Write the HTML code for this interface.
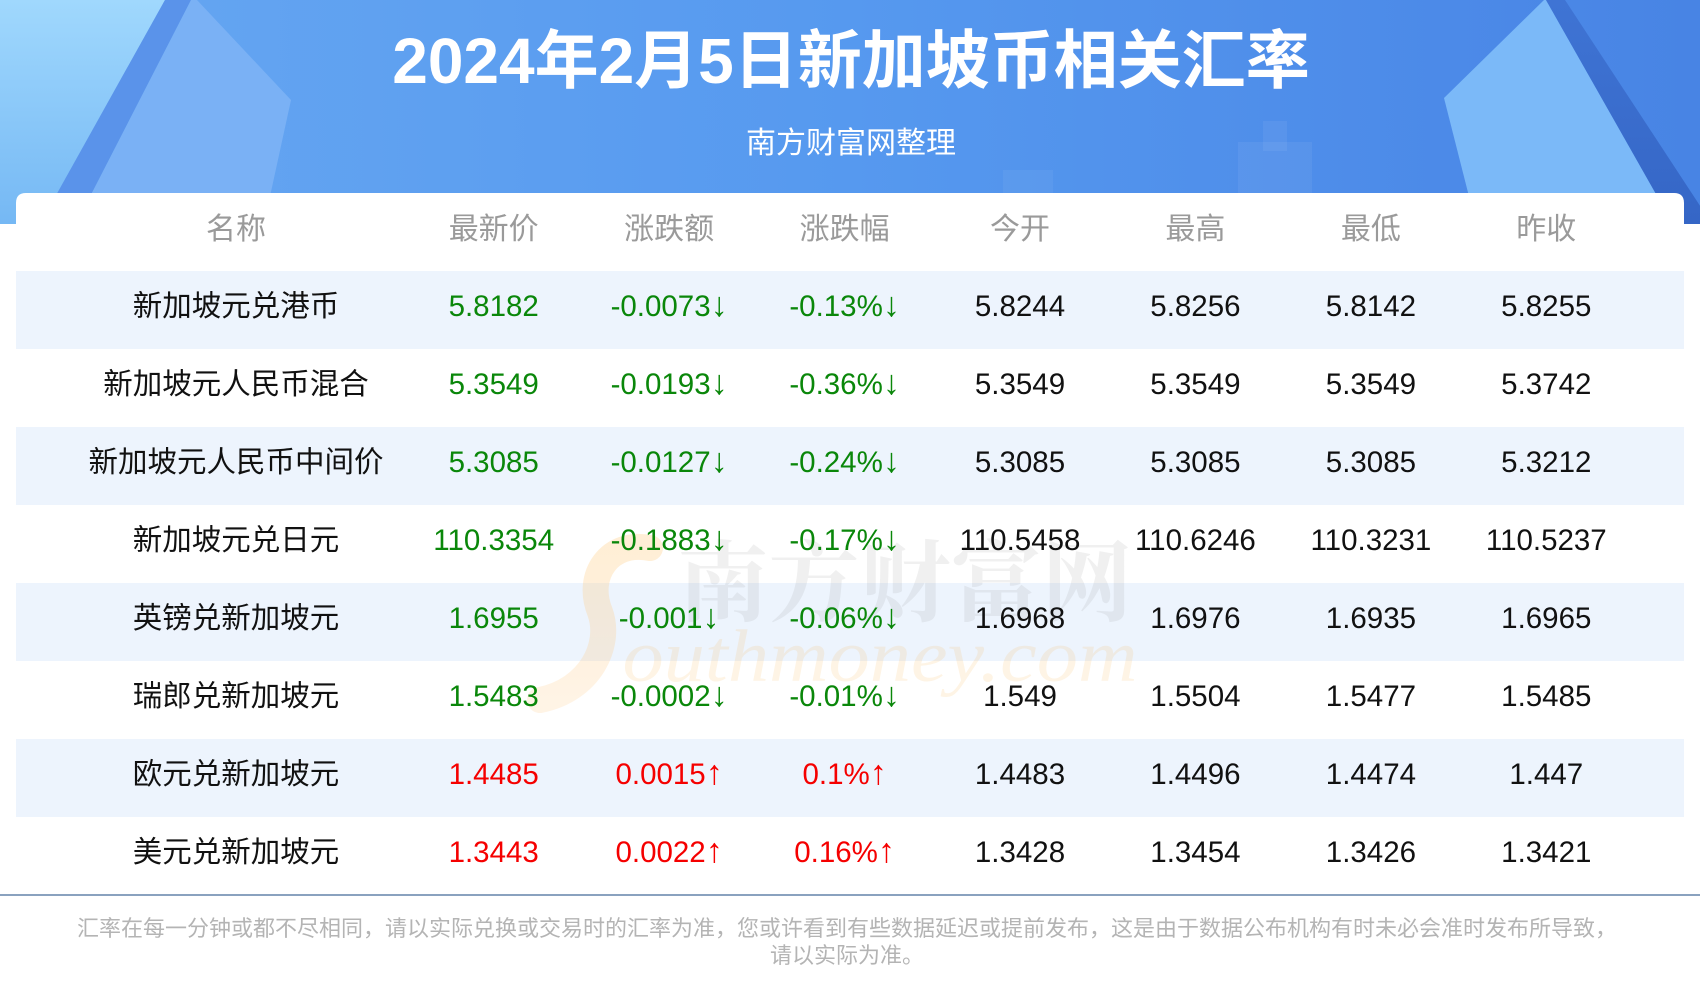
<!DOCTYPE html>
<html>
<head>
<meta charset="utf-8">
<style>
html,body{margin:0;padding:0;background:#fff;}
body{width:1700px;height:1000px;overflow:hidden;}
svg{display:block;}
.t{font-family:"Liberation Sans","Noto Sans CJK SC",sans-serif;}
.d{font-size:29.5px;text-anchor:middle;}
.h{font-size:30px;fill:#9a9a9a;text-anchor:middle;}
.g{fill:#0a870a;}
.r{fill:#f50000;}
.k{fill:#111;}
.a{font-size:34px;}
</style>
</head>
<body>
<svg width="1700" height="1000" viewBox="0 0 1700 1000" xmlns="http://www.w3.org/2000/svg">
<defs>
<linearGradient id="bg" x1="0" y1="0" x2="1" y2="0">
<stop offset="0" stop-color="#7cbcf5"/>
<stop offset="0.12" stop-color="#63a4f1"/>
<stop offset="0.5" stop-color="#5699ef"/>
<stop offset="0.85" stop-color="#4c8ae8"/>
<stop offset="1" stop-color="#4884e4"/>
</linearGradient>
<linearGradient id="lt" x1="0" y1="0" x2="0" y2="1">
<stop offset="0" stop-color="#a0d8fd"/>
<stop offset="1" stop-color="#75b8f4"/>
</linearGradient>
<linearGradient id="ds" x1="0" y1="0" x2="0" y2="1">
<stop offset="0" stop-color="#3f74d4"/>
<stop offset="1" stop-color="#3566c6"/>
</linearGradient>
<linearGradient id="sw" x1="0" y1="0" x2="0" y2="1">
<stop offset="0" stop-color="#ffd08a" stop-opacity="0.35"/>
<stop offset="1" stop-color="#ffc070" stop-opacity="0.18"/>
</linearGradient>
</defs>

<rect x="0" y="0" width="1700" height="222" fill="url(#bg)"/>
<polygon points="0,0 165,0 40,224 0,224" fill="url(#lt)"/>
<polygon points="165,0 191,0 76,224 40,224" fill="#5a93ea"/>
<polygon points="191,0 197,0 291,100 264,224 76,224" fill="#7ab1f5"/>
<polygon points="1544,0 1444,98 1476,224 1673,224 1546,0" fill="#7bb9f8"/>
<polygon points="1546,0 1565,0 1712,224 1673,224" fill="url(#ds)"/>
<rect x="1238" y="142" width="74" height="60" fill="#ffffff" fill-opacity="0.06"/>
<rect x="1263" y="121" width="24" height="30" fill="#ffffff" fill-opacity="0.06"/>
<rect x="1003" y="170" width="50" height="40" fill="#ffffff" fill-opacity="0.05"/>

<text class="t" x="851" y="83" font-size="64" font-weight="bold" fill="#ffffff" text-anchor="middle">2024年2月5日新加坡币相关汇率</text>
<text class="t" x="851" y="153" font-size="30" fill="#ffffff" text-anchor="middle">南方财富网整理</text>

<path d="M16,203 Q16,193 26,193 L1674,193 Q1684,193 1684,203 L1684,895 L16,895 Z" fill="#ffffff"/>

<rect x="16" y="271" width="1668" height="78" fill="#edf4fd"/>
<rect x="16" y="427" width="1668" height="78" fill="#edf4fd"/>
<rect x="16" y="583" width="1668" height="78" fill="#edf4fd"/>
<rect x="16" y="739" width="1668" height="78" fill="#edf4fd"/>

<path d="M650,548 C610,540 585,575 600,612 C612,645 590,690 540,700" fill="none" stroke="url(#sw)" stroke-width="26" stroke-linecap="round"/>
<text x="905" y="614" font-family="Noto Serif CJK SC, serif" font-weight="bold" font-size="88" fill="#8a8a8a" fill-opacity="0.13" text-anchor="middle" textLength="455" lengthAdjust="spacingAndGlyphs">南方财富网</text>
<text x="880" y="681" font-family="Liberation Serif, serif" font-style="italic" font-size="74" fill="#f5b04a" fill-opacity="0.14" text-anchor="middle" textLength="515" lengthAdjust="spacingAndGlyphs">outhmoney.com</text>

<g class="t h">
<text x="236" y="239">名称</text>
<text x="493.7" y="239">最新价</text>
<text x="669.1" y="239">涨跌额</text>
<text x="844.6" y="239">涨跌幅</text>
<text x="1020" y="239">今开</text>
<text x="1195.4" y="239">最高</text>
<text x="1370.9" y="239">最低</text>
<text x="1546.3" y="239">昨收</text>
</g>

<g class="t d">
<text class="k" x="236" y="316">新加坡元兑港币</text>
<text class="g" x="493.7" y="316">5.8182</text>
<text class="g" x="669.1" y="316">-0.0073<tspan class="a">↓</tspan></text>
<text class="g" x="844.6" y="316">-0.13%<tspan class="a">↓</tspan></text>
<text class="k" x="1020" y="316">5.8244</text>
<text class="k" x="1195.4" y="316">5.8256</text>
<text class="k" x="1370.9" y="316">5.8142</text>
<text class="k" x="1546.3" y="316">5.8255</text>

<text class="k" x="236" y="394">新加坡元人民币混合</text>
<text class="g" x="493.7" y="394">5.3549</text>
<text class="g" x="669.1" y="394">-0.0193<tspan class="a">↓</tspan></text>
<text class="g" x="844.6" y="394">-0.36%<tspan class="a">↓</tspan></text>
<text class="k" x="1020" y="394">5.3549</text>
<text class="k" x="1195.4" y="394">5.3549</text>
<text class="k" x="1370.9" y="394">5.3549</text>
<text class="k" x="1546.3" y="394">5.3742</text>

<text class="k" x="236" y="472">新加坡元人民币中间价</text>
<text class="g" x="493.7" y="472">5.3085</text>
<text class="g" x="669.1" y="472">-0.0127<tspan class="a">↓</tspan></text>
<text class="g" x="844.6" y="472">-0.24%<tspan class="a">↓</tspan></text>
<text class="k" x="1020" y="472">5.3085</text>
<text class="k" x="1195.4" y="472">5.3085</text>
<text class="k" x="1370.9" y="472">5.3085</text>
<text class="k" x="1546.3" y="472">5.3212</text>

<text class="k" x="236" y="550">新加坡元兑日元</text>
<text class="g" x="493.7" y="550">110.3354</text>
<text class="g" x="669.1" y="550">-0.1883<tspan class="a">↓</tspan></text>
<text class="g" x="844.6" y="550">-0.17%<tspan class="a">↓</tspan></text>
<text class="k" x="1020" y="550">110.5458</text>
<text class="k" x="1195.4" y="550">110.6246</text>
<text class="k" x="1370.9" y="550">110.3231</text>
<text class="k" x="1546.3" y="550">110.5237</text>

<text class="k" x="236" y="628">英镑兑新加坡元</text>
<text class="g" x="493.7" y="628">1.6955</text>
<text class="g" x="669.1" y="628">-0.001<tspan class="a">↓</tspan></text>
<text class="g" x="844.6" y="628">-0.06%<tspan class="a">↓</tspan></text>
<text class="k" x="1020" y="628">1.6968</text>
<text class="k" x="1195.4" y="628">1.6976</text>
<text class="k" x="1370.9" y="628">1.6935</text>
<text class="k" x="1546.3" y="628">1.6965</text>

<text class="k" x="236" y="706">瑞郎兑新加坡元</text>
<text class="g" x="493.7" y="706">1.5483</text>
<text class="g" x="669.1" y="706">-0.0002<tspan class="a">↓</tspan></text>
<text class="g" x="844.6" y="706">-0.01%<tspan class="a">↓</tspan></text>
<text class="k" x="1020" y="706">1.549</text>
<text class="k" x="1195.4" y="706">1.5504</text>
<text class="k" x="1370.9" y="706">1.5477</text>
<text class="k" x="1546.3" y="706">1.5485</text>

<text class="k" x="236" y="784">欧元兑新加坡元</text>
<text class="r" x="493.7" y="784">1.4485</text>
<text class="r" x="669.1" y="784">0.0015<tspan class="a">↑</tspan></text>
<text class="r" x="844.6" y="784">0.1%<tspan class="a">↑</tspan></text>
<text class="k" x="1020" y="784">1.4483</text>
<text class="k" x="1195.4" y="784">1.4496</text>
<text class="k" x="1370.9" y="784">1.4474</text>
<text class="k" x="1546.3" y="784">1.447</text>

<text class="k" x="236" y="862">美元兑新加坡元</text>
<text class="r" x="493.7" y="862">1.3443</text>
<text class="r" x="669.1" y="862">0.0022<tspan class="a">↑</tspan></text>
<text class="r" x="844.6" y="862">0.16%<tspan class="a">↑</tspan></text>
<text class="k" x="1020" y="862">1.3428</text>
<text class="k" x="1195.4" y="862">1.3454</text>
<text class="k" x="1370.9" y="862">1.3426</text>
<text class="k" x="1546.3" y="862">1.3421</text>
</g>

<rect x="0" y="894" width="1700" height="2" fill="#8aa2bf"/>

<g class="t" font-size="22" fill="#b4b4b4" text-anchor="middle">
<text x="847" y="936">汇率在每一分钟或都不尽相同，请以实际兑换或交易时的汇率为准，您或许看到有些数据延迟或提前发布，这是由于数据公布机构有时未必会准时发布所导致，</text>
<text x="847" y="963">请以实际为准。</text>
</g>
</svg>
</body>
</html>
